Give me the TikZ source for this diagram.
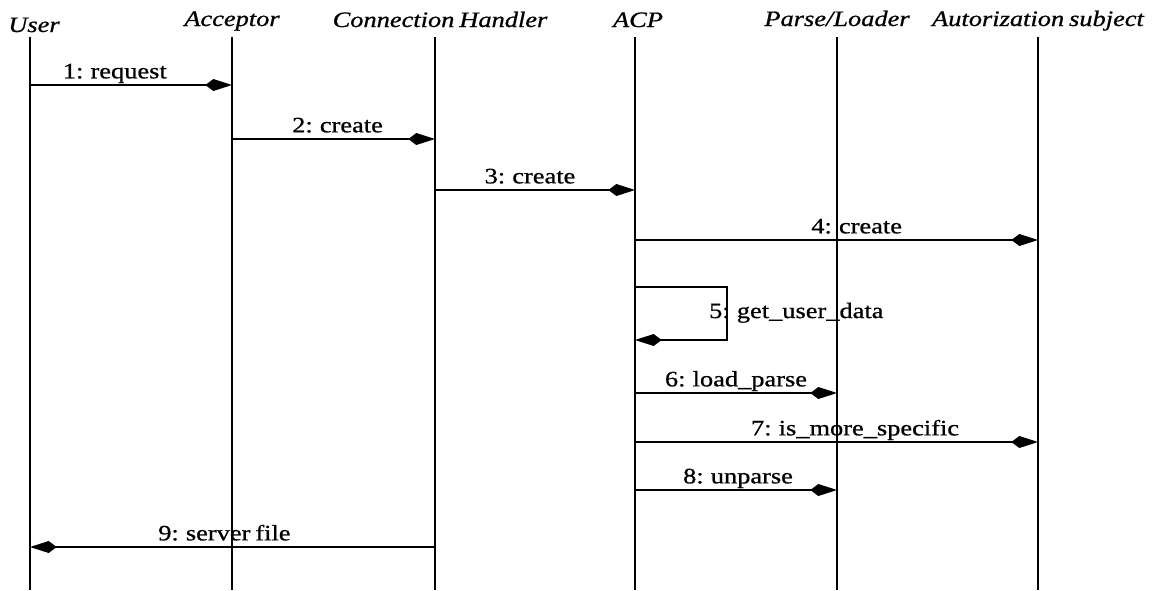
\documentclass[tikz,border=0pt]{standalone}
\usepackage{fontspec}
\setmainfont[FakeStretch=1.2, FakeBold=0.8, WordSpace=0.75]{Liberation Serif}
\usetikzlibrary{arrows.meta}

\tikzset{
    lifeline/.style={line width=1.3pt},
    msg/.style={line width=1.3pt, -{Kite[length=20pt,width=9pt,inset=6pt]}},
    head/.style={font=\fontsize{16.5}{19}\selectfont\itshape, anchor=base, inner sep=0pt},
    msglabel/.style={font=\fontsize{16.5}{19}\selectfont, anchor=base, inner sep=0pt, yshift=5pt}
}

\begin{document}
\begin{tikzpicture}[x=0.75pt, y=-0.75pt]
\useasboundingbox (0,0) rectangle (1152,590);

% objects and lifelines
\foreach \name/\x/\hx/\hy/\txt in {user/30/34/32/User,
        acceptor/232/232/26/Acceptor,
        handler/435/440/27/{Connection Handler},
        acp/635/638/27/ACP,
        loader/837/837/26/{Parse/Loader},
        subject/1038/1038/26/{Autorization subject}}{
    \node[head] (\name) at (\hx,\hy) {\txt};
    \coordinate (\name-top) at (\x,37);
    \coordinate (\name-end) at (\x,590);
    \draw[lifeline] (\name-top) -- (\name-end);
}

% message rows
\foreach \i/\y in {1/85, 2/139, 3/190, 4/240, 5/287, 6/393, 7/442, 8/490, 9/547}
    \coordinate (row\i) at (0,\y);
\coordinate (loop) at (727,340);

% messages
\draw[msg] (user-top|-row1) -- node[msglabel, pos=0.42] {1: request} (acceptor-top|-row1);
\draw[msg] (acceptor-top|-row2) -- node[msglabel, pos=0.52] {2: create} (handler-top|-row2);
\draw[msg] (handler-top|-row3) -- node[msglabel, pos=0.475] {3: create} (acp-top|-row3);
\draw[msg] (acp-top|-row4) -- node[msglabel, pos=0.55] {4: create} (subject-top|-row4);
\draw[msg] (acp-top|-row5) -| node[pos=0.75, anchor=base west, inner sep=0pt, xshift=-14pt, yshift=-3.4pt,
    font=\fontsize{16.5}{19}\selectfont] {5: get\_user\_data} (loop) -- (acp-top|-loop);
\draw[msg] (acp-top|-row6) -- node[msglabel, pos=0.5] {6: load\_parse} (loader-top|-row6);
\draw[msg] (acp-top|-row7) -- node[msglabel, pos=0.546] {7: is\_more\_specific} (subject-top|-row7);
\draw[msg] (acp-top|-row8) -- node[msglabel, pos=0.51] {8: unparse} (loader-top|-row8);
\draw[msg] (handler-top|-row9) -- node[msglabel, pos=0.52] {9: server file} (user-top|-row9);
\end{tikzpicture}
\end{document}
